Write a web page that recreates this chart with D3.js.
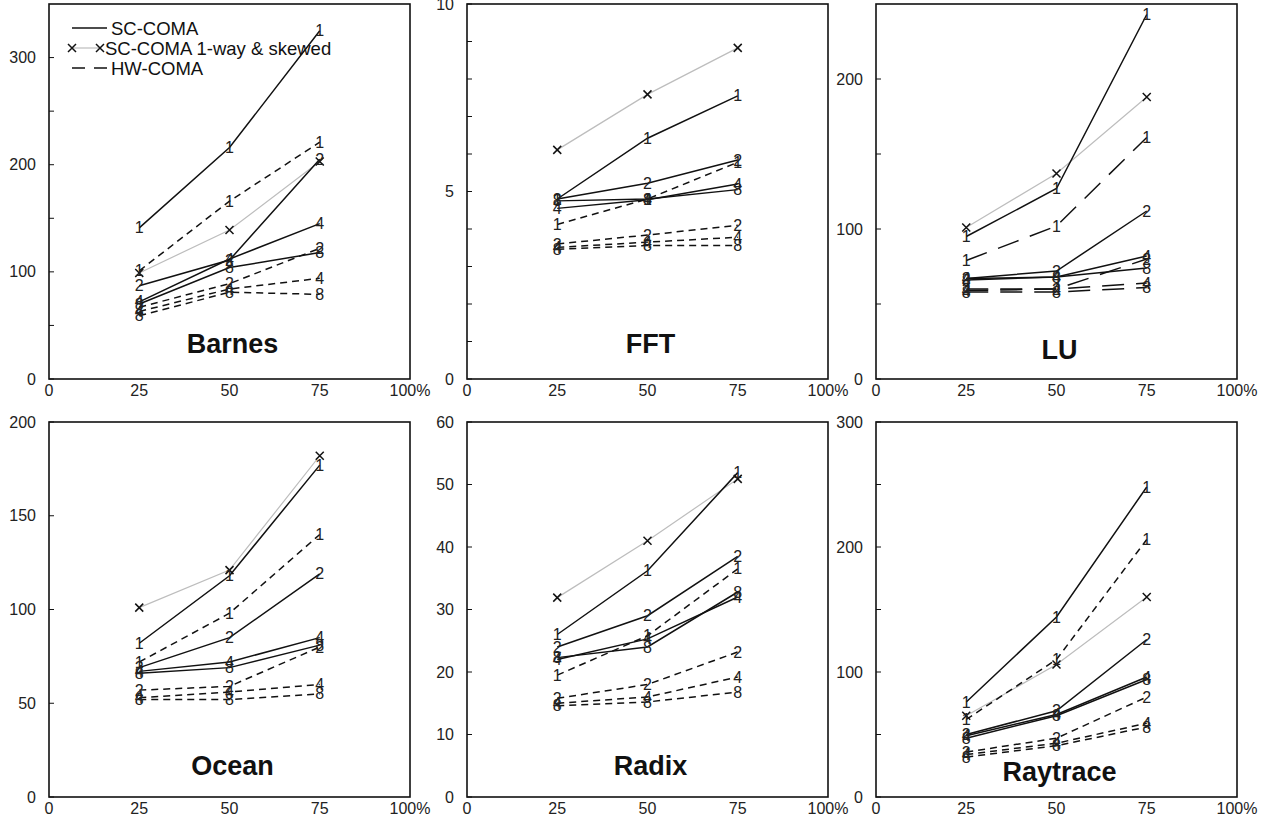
<!DOCTYPE html>
<html>
<head>
<meta charset="utf-8">
<script src="https://cdn.jsdelivr.net/npm/d3@7"></script>
<style>
body { margin: 0; background: #fff; }
svg { display: block; font-family: "Liberation Sans", Arial, sans-serif; }
.frame { fill: none; stroke: #111; stroke-width: 1.6; }
.tick { stroke: #111; stroke-width: 1; }
.tick-label { font-size: 16px; fill: #222; }
.title { font-size: 27px; font-weight: bold; fill: #111; text-anchor: middle; }
.sc, .hw { fill: none; stroke: #111; stroke-width: 1.5; }
.skew { fill: none; stroke: #bdbdbd; stroke-width: 1.2; }
.cross { stroke: #111; stroke-width: 1.5; }
.pt { font-size: 16px; fill: #222; text-anchor: middle; dominant-baseline: central; }
.legend { font-size: 18.5px; fill: #111; dominant-baseline: central; }
</style>
</head>
<body>
<svg id="chart" width="1273" height="819"></svg>
<script>
var percents = [25, 50, 75];
var xTicks = [0, 25, 50, 75, 100];
var procLabels = ['1', '2', '4', '8'];
var legendNames = ['SC-COMA', 'SC-COMA 1-way & skewed', 'HW-COMA'];

var benchmarks = ['Barnes', 'FFT', 'LU', 'Ocean', 'Radix', 'Raytrace'];
var yMax = [350, 10, 250, 200, 60, 300];
var yLabelTicks = [
    [0, 100, 200, 300],
    [0, 5, 10],
    [0, 100, 200],
    [0, 50, 100, 150, 200],
    [0, 10, 20, 30, 40, 50, 60],
    [0, 100, 200, 300]
];
var yMinorTicks = [
    [50, 150, 250],
    [1, 2, 3, 4, 6, 7, 8, 9],
    [50, 150],
    [],
    [],
    [50, 150, 250]
];

// rows: 1, 2, 4, 8 ; columns: 25%, 50%, 75%
var barnesSC = [[141, 216, 325], [87, 111, 205], [72, 112, 145], [70, 104, 118]];
var barnesSkew = [99, 139, 203];
var barnesHW = [[101, 166, 221], [67, 89, 122], [63, 84, 94], [59, 81, 79]];

var fftSC = [[4.8, 6.42, 7.55], [4.8, 5.22, 5.84], [4.55, 4.78, 5.2], [4.75, 4.8, 5.05]];
var fftSkew = [6.11, 7.59, 8.83];
var fftHW = [[4.12, 4.8, 5.78], [3.6, 3.84, 4.1], [3.51, 3.65, 3.78], [3.46, 3.56, 3.56]];

var luSC = [[95, 127, 243], [67, 72, 112], [67, 68, 82], [66, 68, 74]];
var luSkew = [101, 137, 188];
var luHW = [[79, 102, 161], [60, 60, 80], [59, 60, 64], [58, 58, 61]];

var oceanSC = [[82, 118, 177], [69, 85, 119], [67, 72, 85], [66, 69, 81]];
var oceanSkew = [101, 121, 182];
var oceanHW = [[72, 98, 140], [57, 59, 80], [53, 56, 60], [52, 52, 55]];

var radixSC = [[26, 36.2, 51.9], [24, 29, 38.5], [22, 25.3, 32], [22.3, 24, 32.8]];
var radixSkew = [31.9, 41, 50.9];
var radixHW = [[19.5, 25.8, 36.5], [15.8, 18, 23.2], [15, 16, 19.2], [14.6, 15.2, 16.8]];

var raytraceSC = [[76, 144, 248], [50, 69, 126], [49, 66, 96], [47, 65, 94]];
var raytraceSkew = [65, 106, 160];
var raytraceHW = [[62, 110, 206], [36, 47, 80], [34, 43, 59], [32, 41, 56]];

var scComa = [barnesSC, fftSC, luSC, oceanSC, radixSC, raytraceSC];
var skewed = [barnesSkew, fftSkew, luSkew, oceanSkew, radixSkew, raytraceSkew];
var hwComa = [barnesHW, fftHW, luHW, oceanHW, radixHW, raytraceHW];

// layout
var colX = [49, 467, 876], rowY = [4, 422];
var plotW = 361, plotH = 375;
var titleDrop = [26, 26, 20, 22, 22, 16];
var hwDash = ['7,5', '7,5', '22,12', '7,5', '7,5', '7,5'];

var svg = d3.select('#chart');

function drawCross(g, x, y) {
    g.append('path')
        .attr('class', 'cross')
        .attr('d', 'M' + (x - 4) + ',' + (y - 4) + 'L' + (x + 4) + ',' + (y + 4) +
                   'M' + (x - 4) + ',' + (y + 4) + 'L' + (x + 4) + ',' + (y - 4));
}

benchmarks.forEach(function(name, i) {
    var g = svg.append('g')
        .attr('transform', 'translate(' + colX[i % 3] + ',' + rowY[Math.floor(i / 3)] + ')');

    var x = d3.scaleLinear().domain([0, 100]).range([0, plotW]);
    var y = d3.scaleLinear().domain([0, yMax[i]]).range([plotH, 0]);

    var line = d3.line()
        .x(function(d, j) { return x(percents[j]); })
        .y(function(d) { return y(d); });

    // y ticks, pointing into the frame
    g.selectAll('line.tick')
        .data(yLabelTicks[i].concat(yMinorTicks[i]))
        .enter().append('line')
        .attr('class', 'tick')
        .attr('x1', 0).attr('x2', 5)
        .attr('y1', function(d) { return y(d); })
        .attr('y2', function(d) { return y(d); });

    g.selectAll('text.ylab')
        .data(yLabelTicks[i])
        .enter().append('text')
        .attr('class', 'tick-label ylab')
        .attr('x', -13)
        .attr('y', function(d) { return y(d); })
        .attr('dy', '0.35em')
        .attr('text-anchor', 'end')
        .text(function(d) { return d; });

    g.selectAll('text.xlab')
        .data(xTicks)
        .enter().append('text')
        .attr('class', 'tick-label xlab')
        .attr('x', function(d) { return x(d); })
        .attr('y', plotH + 11)
        .attr('dy', '0.35em')
        .attr('text-anchor', 'middle')
        .text(function(d) { return d === 100 ? '100%' : d; });

    // 1-way & skewed, light grey under the rest
    g.append('path')
        .attr('class', 'skew')
        .attr('d', line(skewed[i]));

    hwComa[i].forEach(function(s) {
        g.append('path')
            .attr('class', 'hw')
            .attr('stroke-dasharray', hwDash[i])
            .attr('d', line(s));
    });

    scComa[i].forEach(function(s) {
        g.append('path')
            .attr('class', 'sc')
            .attr('d', line(s));
    });

    skewed[i].forEach(function(v, j) {
        drawCross(g, x(percents[j]), y(v));
    });

    [scComa[i], hwComa[i]].forEach(function(group) {
        group.forEach(function(s, k) {
            g.selectAll(null)
                .data(s)
                .enter().append('text')
                .attr('class', 'pt')
                .attr('x', function(d, j) { return x(percents[j]); })
                .attr('y', function(d) { return y(d); })
                .text(procLabels[k]);
        });
    });

    g.append('text')
        .attr('class', 'title')
        .attr('x', x(50) + 3)
        .attr('y', plotH - titleDrop[i])
        .text(name);

    g.append('rect')
        .attr('class', 'frame')
        .attr('width', plotW)
        .attr('height', plotH);

    if (i === 0) {
        var lg = g.append('g').attr('transform', 'translate(23,24)');
        lg.append('line').attr('class', 'sc')
            .attr('x1', 0).attr('x2', 35).attr('y1', 0).attr('y2', 0);
        lg.append('line').attr('class', 'skew')
            .attr('x1', 0).attr('x2', 28).attr('y1', 20).attr('y2', 20);
        drawCross(lg, 0, 20);
        drawCross(lg, 28, 20);
        lg.append('line').attr('class', 'hw')
            .attr('stroke-dasharray', '13,9')
            .attr('x1', 0).attr('x2', 35).attr('y1', 40).attr('y2', 40);
        lg.selectAll('text')
            .data(legendNames)
            .enter().append('text')
            .attr('class', 'legend')
            .attr('x', function(d, k) { return k === 1 ? 33 : 39; })
            .attr('y', function(d, k) { return k * 20; })
            .text(function(d) { return d; });
    }
});
</script>
</body>
</html>
